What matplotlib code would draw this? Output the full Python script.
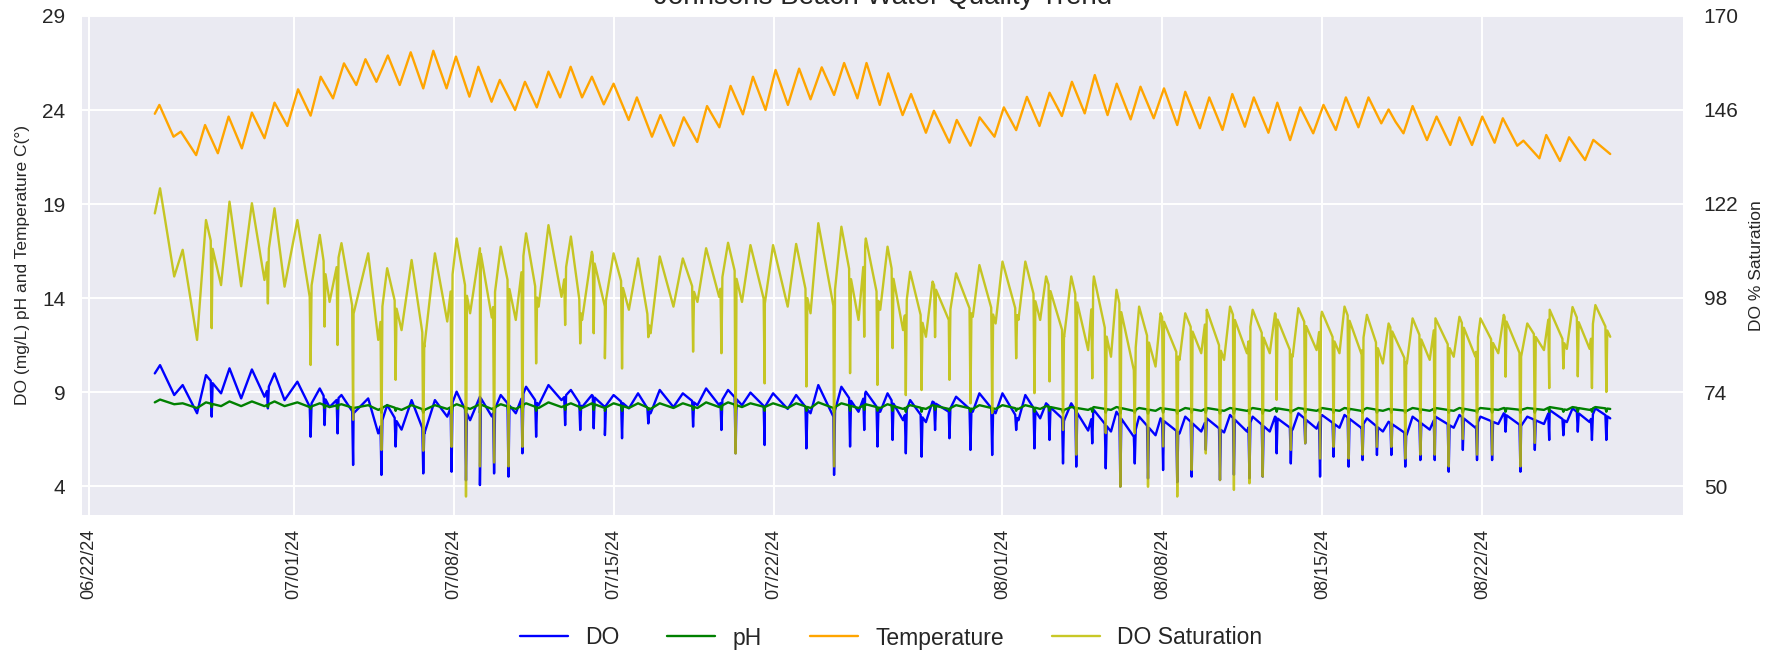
import numpy as np
import pandas as pd
import matplotlib
matplotlib.use("Agg")
import matplotlib.pyplot as plt
import matplotlib.dates as mdates
import seaborn as sns

sns.set_style("darkgrid")
plt.rcParams["font.family"] = ["Liberation Sans", "DejaVu Sans"]

# ---------------- data (days counted from BASE_DATE) ----------------
BASE_DATE = "2024-06-22"

temp_day = [2.9, 3.1, 3.72, 4.04, 4.71, 5.1, 5.66, 6.13, 6.71, 7.15, 7.7, 8.14, 8.7, 9.17, 9.72, 10.16,
            10.7, 11.18, 11.72, 12.12, 12.6, 13.1, 13.62, 14.1, 14.65, 15.09, 15.67, 16.08, 16.67, 17.06,
            17.64, 18.0, 18.67, 19.1, 19.62, 20.13, 20.64, 21.1, 21.6, 22.03, 22.55, 22.98, 23.64, 24.0,
            24.66, 25.03, 25.61, 26.05, 26.64, 27.07, 27.61, 28.1, 28.64, 29.08, 29.63, 30.07, 30.61, 31.1,
            31.6, 32.09, 32.63, 33.07, 33.65, 34.05, 34.63, 35.0, 35.63, 36.0, 36.65, 37.0, 37.68, 38.0,
            38.6, 39.0, 39.65, 40.06, 40.6, 41.07, 41.62, 42.06, 42.6, 43.04, 43.6, 44.04, 44.6, 45.0,
            45.61, 46.04, 46.62, 47.07, 47.65, 48.0, 48.64, 49.05, 49.63, 50.06, 50.61, 51.0, 51.64, 52.03,
            52.59, 53.03, 53.6, 54.05, 54.59, 55.03, 55.58, 56.02, 56.58, 56.9, 57.2, 57.55, 57.95, 58.58,
            59.0, 59.6, 60.0, 60.55, 61.0, 61.54, 61.9, 62.53, 62.8, 63.5, 63.8, 64.4, 64.8, 65.5, 65.86, 66.6]
temp_c = [23.8, 24.27, 22.58, 22.85, 21.6, 23.2, 21.7, 23.65, 21.96, 23.86, 22.5, 24.39, 23.15, 25.1, 23.7, 25.77,
          24.62, 26.48, 25.33, 26.7, 25.5, 26.9, 25.33, 27.07, 25.15, 27.15, 25.15, 26.84, 24.71, 26.3,
          24.44, 25.6, 24.0, 25.5, 24.14, 26.04, 24.67, 26.3, 24.67, 25.77, 24.3, 25.4, 23.47, 24.67,
          22.58, 23.73, 22.1, 23.61, 22.3, 24.21, 23.08, 25.28, 23.77, 25.77, 24.0, 26.13, 24.27, 26.2,
          24.57, 26.27, 24.8, 26.5, 24.62, 26.5, 24.27, 25.95, 23.73, 24.85, 22.79, 23.96, 22.26, 23.47,
          22.1, 23.61, 22.58, 24.14, 22.93, 24.7, 23.15, 24.92, 23.68, 25.5, 23.82, 25.86, 23.73, 25.4,
          23.5, 25.24, 23.56, 25.15, 23.2, 24.97, 23.03, 24.67, 22.94, 24.85, 23.11, 24.67, 22.79, 24.39,
          22.4, 24.14, 22.76, 24.27, 22.94, 24.67, 23.08, 24.67, 23.29, 24.03, 23.38, 22.76, 24.21, 22.4,
          23.65, 22.14, 23.61, 22.14, 23.65, 22.26, 23.56, 22.1, 22.37, 21.43, 22.67, 21.29, 22.55, 21.34, 22.41, 21.66]

# daily highs / lows of the DO, pH and saturation traces
cycle_day = [2.9, 3.13, 3.75, 4.12, 4.75, 5.14, 5.8, 6.17, 6.68, 7.15, 7.7, 8.14, 8.58, 9.14, 9.68, 10.12,
             10.55, 11.07, 11.6, 12.24, 12.68, 13.07, 13.7, 14.14, 14.7, 15.16, 15.7, 16.11, 16.7, 17.13,
             17.65, 18.04, 18.7, 19.15, 19.7, 20.13, 20.7, 21.11, 21.6, 22.03, 22.6, 22.98, 23.65, 24.05,
             24.6, 25.0, 25.6, 26.01, 26.65, 27.03, 27.6, 27.99, 28.6, 28.97, 29.6, 29.96, 30.6, 30.97,
             31.6, 31.94, 32.6, 32.95, 33.7, 34.02, 34.65, 34.97, 35.65, 35.96, 36.65, 36.94, 37.65, 37.97,
             38.7, 38.99, 39.7, 40.0, 40.7, 41.0, 41.65, 41.91, 42.7, 43.01, 43.75, 44.0, 44.75, 44.99,
             45.75, 45.98, 46.7, 46.92, 47.75, 48.0, 48.7, 48.94, 49.7, 49.96, 50.7, 50.95, 51.7, 51.93,
             52.7, 52.95, 53.75, 53.98, 54.75, 54.97, 55.7, 55.95, 56.65, 56.9, 57.7, 57.95, 58.7, 58.95,
             59.75, 60.0, 60.7, 60.92, 61.7, 61.94, 62.7, 62.97, 63.7, 63.95, 64.7, 64.95, 65.7, 65.95, 66.6]
do_sat = [119.6, 126.0, 103.5, 110.3, 87.3, 117.9, 101.3, 122.6, 101.0, 122.2, 102.6, 120.9, 100.9, 117.9, 98.3, 114.1,
          97.0, 112.0, 94.0, 109.4, 87.3, 105.6, 89.8, 107.7, 85.6, 109.4, 92.0, 113.2, 94.1, 110.7,
          93.0, 111.1, 92.4, 114.5, 95.8, 116.6, 98.3, 113.7, 92.4, 109.8, 95.8, 109.4, 95.0, 108.1,
          89.0, 108.6, 95.8, 108.1, 97.0, 110.7, 98.3, 112.1, 97.0, 111.5, 96.6, 111.5, 95.8, 111.8,
          94.1, 117.1, 96.0, 116.2, 92.4, 113.2, 95.0, 111.1, 89.8, 104.7, 88.1, 102.2, 92.4, 104.3,
          93.2, 106.4, 91.5, 107.3, 92.4, 107.3, 92.4, 103.5, 88.1, 103.5, 84.7, 103.5, 83.0, 100.1,
          79.6, 95.8, 80.5, 94.1, 82.2, 94.1, 83.9, 95.0, 82.2, 95.8, 83.9, 95.0, 83.9, 94.1,
          83.0, 95.4, 84.7, 94.5, 83.9, 95.8, 83.9, 93.7, 81.3, 91.5, 81.3, 92.8, 82.2, 92.8,
          83.0, 93.2, 83.0, 92.8, 83.9, 93.7, 83.0, 91.5, 84.7, 95.0, 85.0, 95.7, 85.0, 96.2, 88.1]
do_mgl = [9.99, 10.43, 8.84, 9.37, 7.87, 9.9, 8.93, 10.26, 8.66, 10.2, 8.75, 9.99, 8.57, 9.55, 8.22, 9.19,
          8.2, 8.84, 7.87, 8.66, 6.8, 8.31, 7.0, 8.57, 6.8, 8.57, 7.69, 9.02, 7.5, 8.75,
          7.7, 8.84, 7.87, 9.28, 8.3, 9.37, 8.57, 9.11, 8.2, 8.84, 8.2, 8.84, 8.13, 8.93,
          7.87, 9.11, 8.2, 8.93, 8.3, 9.19, 8.3, 9.11, 8.3, 8.97, 8.2, 8.93, 8.1, 8.84,
          7.87, 9.37, 7.69, 9.28, 7.95, 9.02, 7.95, 8.93, 7.5, 8.57, 7.4, 8.49, 7.95, 8.75,
          7.95, 8.93, 7.87, 8.93, 7.5, 8.84, 7.6, 8.4, 7.5, 8.4, 6.95, 8.04, 6.9, 7.95,
          6.62, 7.69, 6.7, 7.6, 6.8, 7.69, 6.9, 7.6, 6.85, 7.78, 6.9, 7.69, 6.9, 7.69,
          7.0, 7.87, 7.05, 7.78, 7.1, 7.78, 7.1, 7.6, 6.9, 7.42, 6.75, 7.69, 7.0, 7.69,
          7.1, 7.78, 7.1, 7.69, 7.3, 7.87, 7.2, 7.69, 7.3, 8.04, 7.4, 8.13, 7.4, 8.13, 7.6]
ph_val = [8.45, 8.6, 8.35, 8.4, 8.15, 8.45, 8.25, 8.5, 8.25, 8.5, 8.25, 8.5, 8.25, 8.45, 8.2, 8.4,
          8.2, 8.35, 8.15, 8.3, 8.05, 8.3, 8.05, 8.3, 8.05, 8.3, 8.1, 8.35, 8.1, 8.35,
          8.1, 8.35, 8.1, 8.4, 8.15, 8.45, 8.2, 8.4, 8.15, 8.4, 8.15, 8.4, 8.15, 8.4,
          8.1, 8.4, 8.15, 8.4, 8.15, 8.45, 8.2, 8.45, 8.2, 8.4, 8.2, 8.4, 8.15, 8.4,
          8.15, 8.45, 8.15, 8.4, 8.15, 8.35, 8.15, 8.35, 8.1, 8.3, 8.1, 8.3, 8.1, 8.3,
          8.1, 8.3, 8.1, 8.3, 8.1, 8.3, 8.1, 8.25, 8.05, 8.2, 8.05, 8.2, 8.05, 8.2,
          8.0, 8.15, 8.0, 8.15, 8.0, 8.15, 8.0, 8.15, 8.0, 8.15, 8.0, 8.15, 8.0, 8.15,
          8.0, 8.15, 8.0, 8.15, 8.0, 8.15, 8.0, 8.15, 8.0, 8.1, 8.0, 8.15, 8.0, 8.15,
          8.0, 8.15, 8.0, 8.15, 8.05, 8.15, 8.05, 8.15, 8.05, 8.2, 8.05, 8.2, 8.05, 8.2, 8.1]

# short sensor dips (one reading each)
spike_day = [5.39, 7.85, 9.72, 10.33, 10.9, 11.58, 12.82, 13.44, 14.65, 15.89, 16.52, 17.13, 17.75, 18.38,
             18.99, 19.59, 20.86, 21.52, 22.11, 22.6, 23.35, 24.5, 26.46, 27.7, 28.32, 29.59, 31.42, 32.63,
             33.33, 33.95, 34.53, 35.19, 35.77, 36.46, 37.05, 37.68, 38.6, 39.55, 40.6, 41.4, 42.06, 42.65,
             43.23, 43.93, 44.52, 45.16, 45.79, 46.37, 47.03, 47.65, 48.28, 48.9, 49.52, 50.13, 50.81, 51.39,
             52.0, 52.62, 53.25, 53.9, 54.49, 55.15, 55.76, 56.39, 57.02, 57.63, 58.29, 58.92, 59.53, 60.15,
             60.77, 61.43, 62.02, 62.67, 63.3, 63.93, 64.55, 65.18, 65.8, 66.43]
spike_sat = [90.3, 96.6, 80.9, 90.7, 86.0, 66.9, 59.2, 77.1, 59.0, 60.0, 47.3, 55.0, 56.0, 55.0,
             60.0, 81.3, 91.1, 86.4, 89.0, 82.6, 80.0, 88.0, 84.3, 83.9, 58.3, 76.2, 75.4, 55.0,
             78.8, 88.1, 75.8, 85.2, 73.2, 74.5, 88.0, 77.1, 71.1, 68.6, 82.6, 73.7, 76.7, 64.3,
             58.0, 77.5, 63.5, 49.8, 63.5, 49.8, 60.1, 47.3, 54.1, 58.3, 51.5, 49.0, 50.7, 52.4,
             72.0, 59.2, 60.9, 57.0, 60.0, 57.0, 58.0, 60.0, 60.0, 57.0, 58.0, 58.0, 55.0, 62.0,
             58.0, 58.0, 77.9, 55.0, 61.0, 75.0, 80.0, 78.0, 75.0, 74.0]
spike_do = [7.69, 8.13, 6.62, 7.24, 6.8, 5.12, 4.59, 6.1, 4.67, 4.76, 4.3, 4.05, 4.67, 4.5,
            5.74, 6.62, 7.24, 6.98, 7.07, 6.71, 6.54, 7.33, 7.16, 6.98, 5.74, 6.18, 6.0, 4.59,
            6.1, 6.98, 6.1, 6.45, 5.74, 5.56, 6.98, 6.54, 5.92, 5.65, 6.98, 6.0, 6.45, 5.2,
            5.03, 6.27, 4.94, 3.97, 5.2, 4.4, 4.85, 4.2, 4.5, 5.92, 4.32, 4.6, 4.41, 4.5,
            5.74, 5.2, 6.27, 4.5, 5.56, 5.03, 5.38, 5.65, 5.65, 5.03, 5.38, 5.38, 4.76, 5.92,
            5.38, 5.38, 6.89, 4.76, 5.92, 6.45, 6.7, 6.89, 6.45, 6.45]
spike_ph = [8.2, 8.2, 8.1, 8.15, 8.1, 8.0, 7.9, 8.0, 7.9, 7.9, 7.9, 7.9, 7.9, 7.9,
            7.95, 8.0, 8.05, 8.05, 8.05, 8.0, 8.0, 8.05, 8.05, 8.05, 7.95, 8.0, 8.0, 7.9,
            8.0, 8.05, 8.0, 8.0, 7.95, 7.95, 8.05, 8.0, 7.95, 7.95, 8.0, 7.95, 8.0, 7.9,
            7.9, 7.95, 7.9, 7.85, 7.9, 7.85, 7.9, 7.85, 7.9, 7.9, 7.85, 7.85, 7.85, 7.85,
            7.95, 7.9, 7.9, 7.9, 7.9, 7.9, 7.9, 7.9, 7.9, 7.9, 7.9, 7.9, 7.9, 7.9,
            7.9, 7.9, 7.95, 7.9, 7.9, 7.95, 7.95, 7.95, 7.95, 7.95]

left_ticks = [4, 9, 14, 19, 24, 29]
right_ticks = [50, 74, 98, 122, 146, 170]


# ---------------- helpers ----------------
def to_dates(days):
    return pd.Timestamp(BASE_DATE) + pd.to_timedelta(np.asarray(days, dtype=float), unit="D")


def with_spikes(base_t, base_v, sp_t, sp_v, half=0.042):
    """Insert one-reading dips into a traced series (flanks sit on the trace)."""
    t = list(base_t)
    v = list(base_v)
    for st, sv in zip(sp_t, sp_v):
        for dt in (-half, half):
            t.append(st + dt)
            v.append(float(np.interp(st + dt, base_t, base_v)))
        t.append(st)
        v.append(sv)
    order = np.argsort(t, kind="stable")
    return np.asarray(t)[order], np.asarray(v)[order]


# ---------------- figure ----------------
fig = plt.figure(figsize=(17.87, 6.61), dpi=100)
ax = fig.add_axes([0.0459, 0.2209, 0.8959, 0.7549])
ax2 = ax.twinx()

LW = 1.7
t_do, v_do = with_spikes(cycle_day, do_mgl, spike_day, spike_do)
t_ph, v_ph = with_spikes(cycle_day, ph_val, spike_day, spike_ph)
t_sat, v_sat = with_spikes(cycle_day, do_sat, spike_day, spike_sat)

l1, = ax.plot(to_dates(t_do), v_do, color="blue", lw=LW, label="DO", solid_joinstyle="round")
l2, = ax.plot(to_dates(t_ph), v_ph, color="green", lw=LW, label="pH", solid_joinstyle="round")
l3, = ax.plot(to_dates(temp_day), temp_c, color="orange", lw=LW, label="Temperature",
              solid_joinstyle="round")
l4, = ax2.plot(to_dates(t_sat), v_sat, color="y", lw=LW, alpha=0.85, label="DO Saturation",
               solid_joinstyle="round")

ax.set_ylim(2.46, 29)
ax.set_yticks(left_ticks)
ax2.set_ylim(42.6, 170)
ax2.set_yticks(right_ticks)
ax2.grid(False)

ax.xaxis.set_major_locator(mdates.DayLocator(bymonthday=[1, 8, 15, 22]))
ax.xaxis.set_major_formatter(mdates.DateFormatter("%m/%d/%y"))

for a in (ax, ax2):
    for s in a.spines.values():
        s.set_visible(False)
ax.grid(True, color="white", lw=1.4)

ax.tick_params(axis="x", labelsize=13, rotation=90, pad=10, length=0, colors=".15")
ax.tick_params(axis="y", labelsize=15, pad=12, length=0, colors=".15")
ax2.tick_params(axis="y", labelsize=15, pad=15, length=0, colors=".15")

ax.set_ylabel("DO (mg/L) pH and Temperature C(°)", fontsize=12.5, color=".15")
ax2.set_ylabel("DO % Saturation", fontsize=12.5, color=".15")
for lab in (ax.yaxis.label, ax2.yaxis.label):
    lab.set_rotation_mode("default")
    lab.set_ha("center")
    lab.set_va("center")
ax.yaxis.set_label_coords((22 - 82) / 1601, 0.5)
ax2.yaxis.set_label_coords((1757 - 82) / 1601, 0.5)

fig.text(883 / 1787, 1 - 4 / 661, "Johnsons Beach Water Quality Trend",
         ha="center", va="baseline", fontsize=20, color=".15")

fig.legend(handles=[l1, l2, l3, l4], labels=["DO", "pH", "Temperature", "DO Saturation"],
           loc="center", bbox_to_anchor=(891 / 1787, 1 - 638 / 661), ncol=4, frameon=False,
           fontsize=16.5, handlelength=2.1, handletextpad=0.75, columnspacing=2.1)

fig.savefig("out.png", dpi=100)
